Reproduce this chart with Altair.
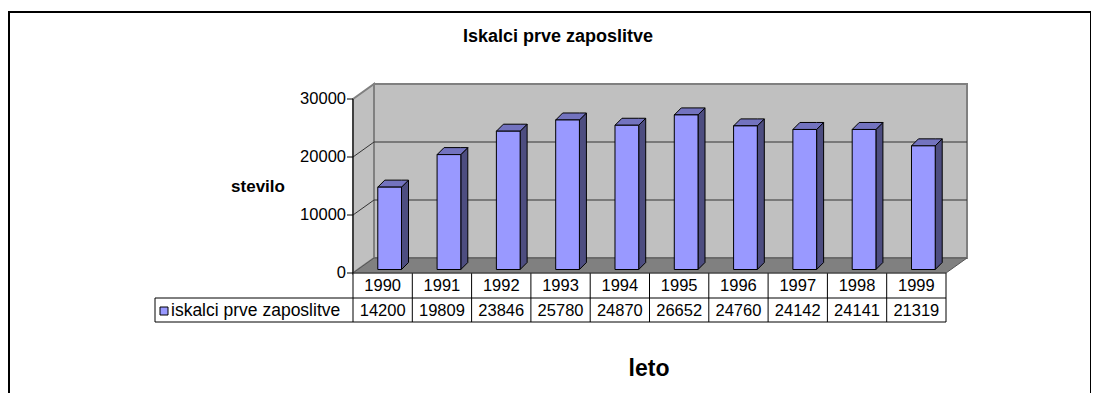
import altair as alt
import pandas as pd

# ---------------- data ----------------
years = ["1990", "1991", "1992", "1993", "1994", "1995", "1996", "1997", "1998", "1999"]
values = [14200, 19809, 23846, 25780, 24870, 26652, 24760, 24142, 24141, 21319]
y_ticks = [0, 10000, 20000, 30000]
chart_title = "Iskalci prve zaposlitve"
series_name = "iskalci prve zaposlitve"
y_title = "stevilo"
x_title = "leto"

# ---------------- geometry / style ----------------
W, H = 593, 174
YMAX = 30000
N = len(years)
PX_X = W / N          # px per x unit
PX_Y = H / YMAX       # px per y unit


def ux(px):
    return px / PX_X


def uy(px):
    return px / PX_Y


WALL_DX, WALL_DY = ux(21), uy(15)   # 3D depth of the walls
BAR_DX, BAR_DY = ux(7), uy(7)       # 3D depth of each column
HALF = 0.2                          # half column width (x units)
BAR_OFF_X, BAR_OFF_Y = 7, -3.5      # px shift of the column front face

FONT = "Liberation Sans"
FRONT = "#9999FF"
TOP = "#7373BF"
SIDE = "#4D4D80"
WALL = "#C0C0C0"
WALL_EDGE = "#808080"
FLOOR = "#808080"
GRID = "#333333"

xs = alt.Scale(domain=[0, N], nice=False, zero=False)
ys = alt.Scale(domain=[0, YMAX], nice=False, zero=False)


def X(field):
    return alt.X(field, type="quantitative", scale=xs, axis=None)


def Y(field):
    return alt.Y(field, type="quantitative", scale=ys, axis=None, stack=False)


one = pd.DataFrame({"k": [0]})

# ---------------- walls / floor ----------------
back = alt.Chart(pd.DataFrame({
    "x": [WALL_DX], "x2": [N + WALL_DX], "y": [WALL_DY], "y2": [YMAX + WALL_DY]
})).mark_rect(fill=WALL, stroke=WALL_EDGE, strokeWidth=2).encode(
    x=X("x"), x2="x2", y=Y("y"), y2="y2")

left_wall = alt.Chart(pd.DataFrame({
    "x": [0, WALL_DX], "y": [YMAX, YMAX + WALL_DY], "y2": [0, WALL_DY]
})).mark_area(orient="vertical", fill=WALL, stroke=WALL_EDGE, strokeWidth=2).encode(
    x=X("x"), y=Y("y"), y2="y2")

floor = alt.Chart(pd.DataFrame({
    "x": [0, WALL_DX, N, N + WALL_DX],
    "y": [0, WALL_DY, WALL_DY, WALL_DY],
    "y2": [0, 0, 0, WALL_DY],
})).mark_area(orient="vertical", fill=FLOOR, stroke="#555555", strokeWidth=1).encode(
    x=X("x"), y=Y("y"), y2="y2")

grid_vals = [t for t in y_ticks if 0 < t < YMAX]
back_grid = alt.Chart(pd.DataFrame({
    "x": [WALL_DX] * len(grid_vals), "x2": [N + WALL_DX] * len(grid_vals),
    "y": [v + WALL_DY for v in grid_vals]
})).mark_rule(color=GRID, strokeWidth=1).encode(x=X("x"), x2="x2", y=Y("y"))

side_rows = []
for v in grid_vals:
    side_rows.append({"g": v, "x": 0, "y": v})
    side_rows.append({"g": v, "x": WALL_DX, "y": v + WALL_DY})
side_grid = alt.Chart(pd.DataFrame(side_rows)).mark_line(color=GRID, strokeWidth=1).encode(
    x=X("x"), y=Y("y"), detail="g:N")

# ---------------- value axis (front) ----------------
ticks_df = pd.DataFrame({"v": y_ticks, "lab": [str(t) for t in y_ticks]})
axis_domain = alt.Chart(pd.DataFrame({"x": [0], "y": [0], "y2": [YMAX]})).mark_rule(
    color="black", strokeWidth=1).encode(x=X("x"), y=Y("y"), y2="y2")
axis_ticks = alt.Chart(ticks_df).mark_rule(color="black", strokeWidth=1).encode(
    x=alt.value(-6), x2=alt.value(0), y=Y("v"))
axis_labels = alt.Chart(ticks_df).mark_text(
    font=FONT, fontSize=16.5, color="black", align="right", baseline="middle").encode(
    x=alt.value(-7), y=Y("v"), text="lab:N")

# ---------------- 3D columns ----------------
bars = pd.DataFrame({"year": years, "value": values})
bars["c"] = [i + 0.5 for i in range(N)]
bars["xl"] = bars["c"] - HALF
bars["xr"] = bars["c"] + HALF
bars["zero"] = 0
bars["label"] = [str(v) for v in values]

top_rows, side_rows2 = [], []
for _, r in bars.iterrows():
    xl, xr, v = r["xl"], r["xr"], r["value"]
    top_rows += [
        {"b": r["year"], "x": xl, "y": v, "y2": v},
        {"b": r["year"], "x": xl + BAR_DX, "y": v + BAR_DY, "y2": v},
        {"b": r["year"], "x": xr, "y": v + BAR_DY, "y2": v},
        {"b": r["year"], "x": xr + BAR_DX, "y": v + BAR_DY, "y2": v + BAR_DY},
    ]
    side_rows2 += [
        {"b": r["year"], "x": xr, "y": v, "y2": 0},
        {"b": r["year"], "x": xr + BAR_DX, "y": v + BAR_DY, "y2": BAR_DY},
    ]

off = dict(xOffset=BAR_OFF_X, x2Offset=BAR_OFF_X, yOffset=BAR_OFF_Y, y2Offset=BAR_OFF_Y)

bar_side = alt.Chart(pd.DataFrame(side_rows2)).mark_area(
    orient="vertical", fill=SIDE, stroke="black", strokeWidth=1, strokeJoin="miter", **off
).encode(x=X("x"), y=Y("y"), y2="y2", detail="b:N")

bar_top = alt.Chart(pd.DataFrame(top_rows)).mark_area(
    orient="vertical", fill=TOP, stroke="black", strokeWidth=1, strokeJoin="miter", **off
).encode(x=X("x"), y=Y("y"), y2="y2", detail="b:N")

bar_front = alt.Chart(bars).mark_rect(
    fill=FRONT, stroke="black", strokeWidth=1, **off
).encode(x=X("xl"), x2="xr", y=Y("value"), y2="zero")

# ---------------- data table ----------------
ROW1_Y, ROW2_Y, TABLE_BOTTOM = 174, 199, 223
LEG_LEFT = -198

vlines = alt.Chart(pd.DataFrame({"x": list(range(N + 1))})).mark_rule(
    color="black", strokeWidth=1).encode(x=X("x"), y=alt.value(ROW1_Y), y2=alt.value(TABLE_BOTTOM))
leg_vline = alt.Chart(one).mark_rule(color="black", strokeWidth=1).encode(
    x=alt.value(LEG_LEFT), y=alt.value(ROW2_Y), y2=alt.value(TABLE_BOTTOM))
hline_top = alt.Chart(one).mark_rule(color="#404040", strokeWidth=1).encode(
    x=alt.value(0), x2=alt.value(W), y=alt.value(ROW1_Y))
hline_mid = alt.Chart(one).mark_rule(color="black", strokeWidth=1).encode(
    x=alt.value(LEG_LEFT), x2=alt.value(W), y=alt.value(ROW2_Y))
hline_bot = alt.Chart(one).mark_rule(color="black", strokeWidth=1).encode(
    x=alt.value(LEG_LEFT), x2=alt.value(W), y=alt.value(TABLE_BOTTOM))

year_text = alt.Chart(bars).mark_text(font=FONT, fontSize=16.5, color="black").encode(
    x=X("c"), y=alt.value((ROW1_Y + ROW2_Y) / 2 + 0.5), text="year:N")
value_text = alt.Chart(bars).mark_text(font=FONT, fontSize=16.5, color="black").encode(
    x=X("c"), y=alt.value((ROW2_Y + TABLE_BOTTOM) / 2 + 0.5), text="label:N")

leg_mid = (ROW2_Y + TABLE_BOTTOM) / 2
leg_box = alt.Chart(one).mark_rect(fill=FRONT, stroke="black", strokeWidth=1).encode(
    x=alt.value(LEG_LEFT + 5), x2=alt.value(LEG_LEFT + 13),
    y=alt.value(leg_mid - 3), y2=alt.value(leg_mid + 5))
leg_text = alt.Chart(pd.DataFrame({"t": [series_name]})).mark_text(
    font=FONT, fontSize=17.5, color="black", align="left").encode(
    x=alt.value(LEG_LEFT + 16), y=alt.value(leg_mid + 0.5), text="t:N")

# ---------------- titles / frame ----------------
title_text = alt.Chart(pd.DataFrame({"t": [chart_title]})).mark_text(
    font=FONT, fontSize=18, fontWeight="bold", color="black").encode(
    x=alt.value(205), y=alt.value(-62), text="t:N")
ytitle_text = alt.Chart(pd.DataFrame({"t": [y_title]})).mark_text(
    font=FONT, fontSize=17, fontWeight="bold", color="black").encode(
    x=alt.value(-95), y=alt.value(88), text="t:N")
xtitle_text = alt.Chart(pd.DataFrame({"t": [x_title]})).mark_text(
    font=FONT, fontSize=23, fontWeight="bold", color="black").encode(
    x=alt.value(296), y=alt.value(270), text="t:N")

frame = alt.Chart(one).mark_rect(fill="transparent", stroke="black", strokeWidth=2).encode(
    x=alt.value(-344), x2=alt.value(738), y=alt.value(-87), y2=alt.value(297))

chart = alt.layer(
    frame, back, left_wall, floor, back_grid, side_grid,
    bar_side, bar_top, bar_front,
    vlines, leg_vline, hline_top, hline_mid, hline_bot,
    axis_domain, axis_ticks, axis_labels,
    year_text, value_text, leg_box, leg_text,
    title_text, ytitle_text, xtitle_text,
).properties(
    width=W, height=H,
    autosize=alt.AutoSizeParams(type="none"),
    padding={"left": 345, "top": 91, "right": 145, "bottom": 120},
    background="white",
).configure_view(stroke="transparent")

chart.save("out.html", embed_options={"renderer": "svg", "actions": False})
